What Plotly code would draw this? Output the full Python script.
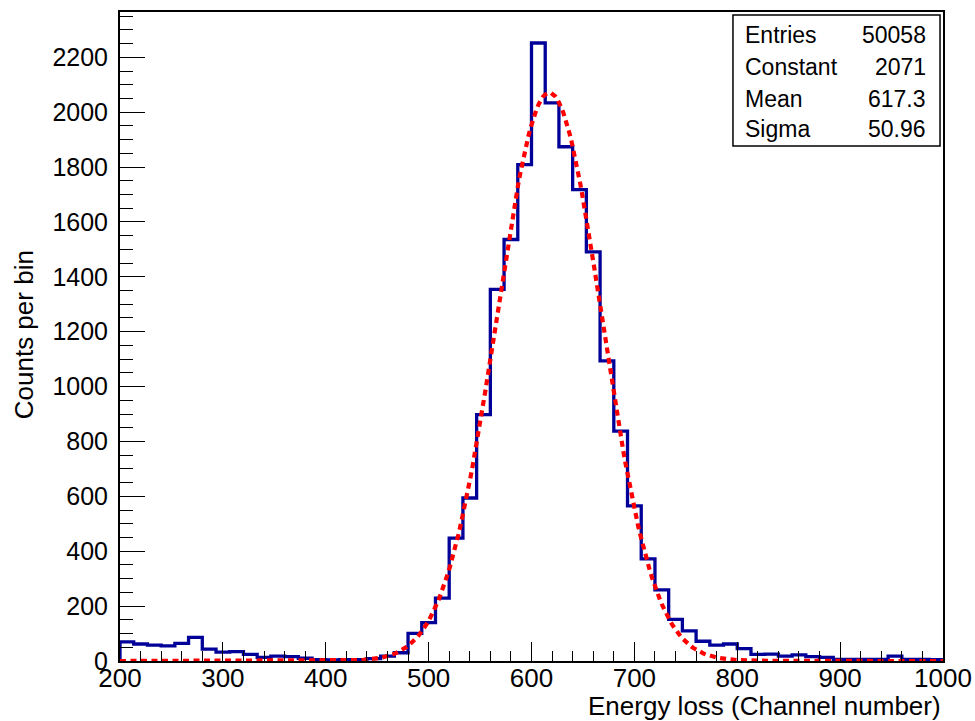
import numpy as np
import plotly.graph_objects as go

# ---- data ----
x_min, x_max, n_bins = 200.0, 1000.0, 60
counts = [70, 62, 58, 55, 64, 86, 43, 32, 34, 24,
          13, 18, 16, 10, 5, 4, 5, 5, 9, 18,
          30, 101, 140, 229, 448, 594, 898, 1354, 1536, 1809,
          2252, 2034, 1874, 1718, 1491, 1094, 838, 565, 372, 259,
          152, 110, 72, 58, 62, 45, 24, 25, 18, 22,
          16, 13, 6, 6, 6, 6, 18, 6, 6, 5]
fit_constant, fit_mean, fit_sigma = 2071.0, 617.3, 50.96
stat_names = ["Entries", "Constant", "Mean", "Sigma"]
stat_values = ["50058", "2071", "617.3", "50.96"]
x_ticks = [200, 300, 400, 500, 600, 700, 800, 900, 1000]
y_ticks = [0, 200, 400, 600, 800, 1000, 1200, 1400, 1600, 1800, 2000, 2200]

edges = np.linspace(x_min, x_max, n_bins + 1)
step_x = [x_min] + list(edges[:-1]) + [x_max]
step_y = [0] + list(counts) + [0]

fx = np.linspace(x_min, x_max, 400)
fy = fit_constant * np.exp(-0.5 * ((fx - fit_mean) / fit_sigma) ** 2)

FONT = "Liberation Sans, Arial, Helvetica, sans-serif"

fig = go.Figure()
fig.add_trace(go.Scatter(x=step_x, y=step_y, mode="lines",
                         line=dict(shape="hv", color="#000099", width=3.3),
                         hoverinfo="skip"))
fig.add_trace(go.Scatter(x=fx, y=fy, mode="lines",
                         line=dict(color="#ff0000", width=4.2, dash="6px,4.5px"),
                         hoverinfo="skip"))

fig.update_layout(
    width=975, height=721,
    margin=dict(l=120, r=32, t=12, b=60),
    paper_bgcolor="white", plot_bgcolor="white",
    showlegend=False,
    font=dict(family=FONT, color="black", size=24),
)
fig.update_xaxes(
    range=[x_min, x_max], tickvals=x_ticks, ticktext=[str(v) for v in x_ticks],
    ticks="inside", ticklen=19, tickwidth=1, tickcolor="black",
    minor=dict(dtick=20, ticks="inside", ticklen=10, tickwidth=1, tickcolor="black", tick0=200),
    showline=True, linecolor="black", linewidth=2, mirror=True,
    showgrid=False, zeroline=False, automargin=False,
    tickfont=dict(size=26), ticklabelstandoff=-7,
)
fig.update_yaxes(
    range=[0, 2365], tickvals=y_ticks, ticktext=[str(v) for v in y_ticks],
    ticks="inside", ticklen=25, tickwidth=1, tickcolor="black",
    minor=dict(dtick=50, ticks="inside", ticklen=13, tickwidth=1, tickcolor="black", tick0=0),
    showline=True, linecolor="black", linewidth=2, mirror=True,
    showgrid=False, zeroline=False, automargin=False,
    tickfont=dict(size=25), ticklabelstandoff=5,
)

# axis titles
fig.add_annotation(text="Energy loss (Channel number)", xref="paper", yref="paper",
                   x=1.0, y=-0.069, xanchor="right", yanchor="middle", showarrow=False,
                   font=dict(size=26))
fig.add_annotation(text="Counts per bin", xref="paper", yref="paper",
                   x=-0.1166, y=0.502, xanchor="center", yanchor="middle", showarrow=False,
                   textangle=-90, font=dict(size=26))

# stats box
fig.add_shape(type="rect", xref="paper", yref="paper",
              x0=0.7448, x1=0.9964, y0=0.7935, y1=0.9954,
              line=dict(color="black", width=1.5), fillcolor="white", layer="above")
row_y = [0.9646, 0.9153, 0.8660, 0.8197]
for name, val, yy in zip(stat_names, stat_values, row_y):
    fig.add_annotation(text=name, xref="paper", yref="paper", x=0.757, y=yy,
                       xanchor="left", yanchor="middle", showarrow=False, font=dict(size=23))
    fig.add_annotation(text=val, xref="paper", yref="paper", x=0.9818, y=yy,
                       xanchor="right", yanchor="middle", showarrow=False, font=dict(size=23))

fig.write_html("out.html")
